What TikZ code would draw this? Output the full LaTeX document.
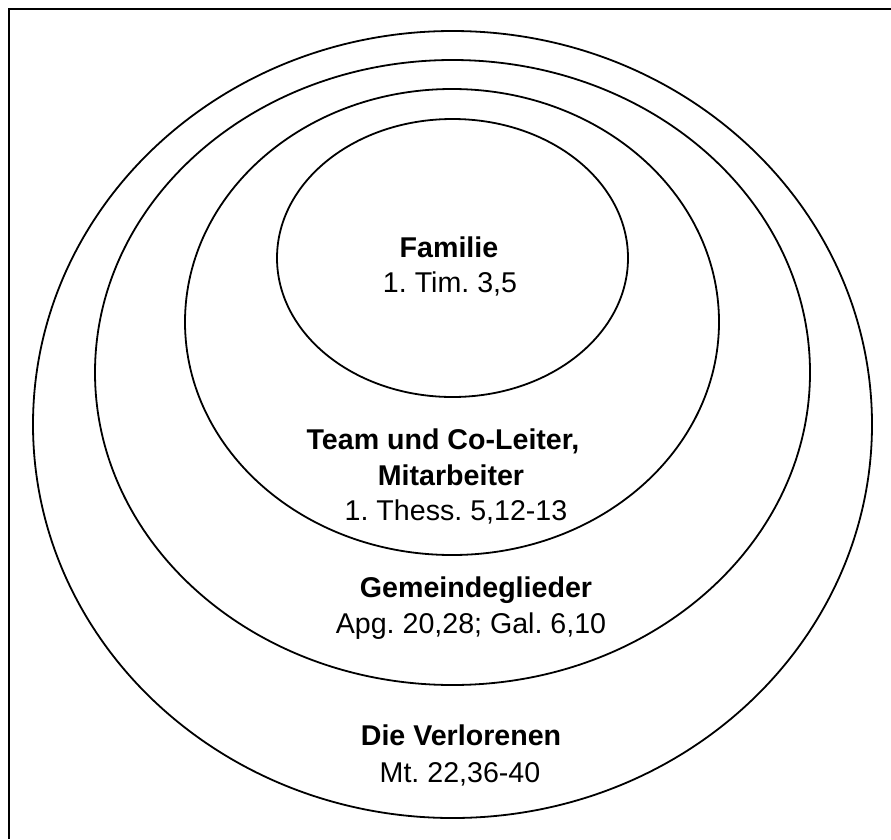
\documentclass[tikz,border=0pt]{standalone}
\usepackage{fontspec}
\setmainfont{Liberation Sans}
\frenchspacing
\begin{document}
\begin{tikzpicture}[x=1pt,y=-1pt,
  ring/.style={draw=black,line width=1.8pt},
  frameline/.style={draw=black,line width=2.8pt},
  heading/.style={anchor=base,inner sep=0pt,font=\fontsize{28.6}{34}\selectfont\bfseries},
  verse/.style={anchor=base,inner sep=0pt,font=\fontsize{28.6}{34}\selectfont},
]
\useasboundingbox (0,0) rectangle (891,839);
\fill[white] (0,0) rectangle (891,839);

% frame (left and top edges)
\coordinate (fbl) at (9,839);
\coordinate (ftl) at (9,9);
\coordinate (ftr) at (891,9);
\draw[frameline] (fbl) -- (ftl) -- (ftr);

% nested rings
\draw[ring] (452.5,424.5) ellipse [x radius=419.5pt, y radius=393.5pt];
\draw[ring] (452.5,372.5) ellipse [x radius=357.5pt, y radius=312.5pt];
\draw[ring] (452,322) ellipse [x radius=267pt, y radius=233pt];
\draw[ring] (452.5,258) ellipse [x radius=175.5pt, y radius=139pt];

% labels
\node[heading] (famT) at (449,257) {Familie};
\node[verse]   (famR) at (450,292) {1. Tim. 3,5};

\node[heading] (teamA) at (443,449) {Team und Co-Leiter,};
\node[heading] (teamB) at (451,485) {Mitarbeiter};
\node[verse]   (teamR) at (456,520) {1. Thess. 5,12-13};

\node[heading] (gemT) at (476,597) {Gemeindeglieder};
\node[verse]   (gemR) at (471,633) {Apg. 20,28; Gal. 6,10};

\node[heading] (verT) at (461,745) {Die Verlorenen};
\node[verse]   (verR) at (460,782) {Mt. 22,36-40};
\end{tikzpicture}
\end{document}
